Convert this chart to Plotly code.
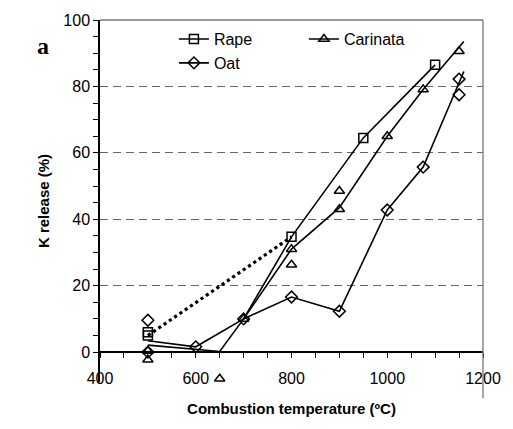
import plotly.graph_objects as go

# ---- data ----
rape_mx = [500, 500, 800, 950, 1100]
rape_my = [5, 6, 34.7, 64.5, 86.5]
rape_lx = [700, 800, 950, 1100]
rape_ly = [10, 34.7, 64.5, 86.5]
rape_dx = [500, 800]
rape_dy = [5, 34.7]

oat_mx = [500, 500, 600, 700, 800, 900, 1000, 1075, 1150, 1150]
oat_my = [9.6, 0, 1.6, 10, 16.6, 12.3, 42.8, 55.7, 82.2, 77.5]
oat_lx = [500, 600, 700, 800, 900, 1000, 1075, 1160]
oat_ly = [3.4, 1.6, 10, 16.6, 12.3, 42.8, 55.7, 84.5]

car_mx = [500, 500, 650, 700, 800, 800, 900, 900, 1000, 1075, 1150]
car_my = [0.3, -2.3, -8, 10, 31, 26.3, 43, 48.5, 65, 79.1, 90.6]
car_lx = [500, 650, 700, 800, 900, 1000, 1075, 1160]
car_ly = [2.1, 0.2, 10, 31, 43.5, 65, 79.1, 93.5]

x_ticks = [400, 600, 800, 1000, 1200]
y_ticks = [0, 20, 40, 60, 80, 100]
y_minor = [5, 10, 15, 25, 30, 35, 45, 50, 55, 65, 70, 75, 85, 90, 95]
Y_LOW = -9

BLK = "black"
LW = 1.6
MS = 9

fig = go.Figure()

for lx, ly in [(rape_lx, rape_ly), (oat_lx, oat_ly), (car_lx, car_ly)]:
    fig.add_trace(go.Scatter(x=lx, y=ly, mode="lines", line=dict(color=BLK, width=LW),
                             showlegend=False, hoverinfo="skip"))
fig.add_trace(go.Scatter(x=rape_dx, y=rape_dy, mode="lines",
                         line=dict(color=BLK, width=3.2, dash="dot"),
                         showlegend=False, hoverinfo="skip"))

for mx, my, sym in [(rape_mx, rape_my, "square-open"), (oat_mx, oat_my, "diamond-open"),
                    (car_mx, car_my, "triangle-up-open")]:
    fig.add_trace(go.Scatter(x=mx, y=my, mode="markers", cliponaxis=False,
                             marker=dict(symbol=sym, size=MS, color=BLK,
                                         line=dict(color=BLK, width=1.5)),
                             showlegend=False))

for name, sym in [("Rape", "square-open"), ("Carinata", "triangle-up-open"), ("Oat", "diamond-open")]:
    fig.add_trace(go.Scatter(x=[None], y=[None], mode="lines+markers", name=name,
                             line=dict(color=BLK, width=LW),
                             marker=dict(symbol=sym, size=MS, color=BLK,
                                         line=dict(color=BLK, width=1.5))))

zero_pos = (0 - Y_LOW) / (100 - Y_LOW)

fig.update_layout(
    width=513, height=429,
    margin=dict(l=100, r=21, t=19, b=47),
    paper_bgcolor="white", plot_bgcolor="white",
    font=dict(family="Liberation Sans, Arial", size=16, color="black"),
    legend=dict(orientation="h", x=0.193, y=0.994, xanchor="left", yanchor="top",
                entrywidth=85, font=dict(size=16), bgcolor="rgba(0,0,0,0)",
                tracegroupgap=0, itemwidth=30),
    xaxis=dict(range=[400, 1200], tickvals=x_ticks, ticks="outside", ticklen=5,
               tickcolor=BLK, showline=True, linecolor=BLK, linewidth=1.5,
               showgrid=False, zeroline=False, anchor="free", position=zero_pos,
               ticklabelstandoff=7,
               minor=dict(dtick=50, tick0=400, ticks="outside", ticklen=5, tickcolor=BLK),
               title=dict(text="<b>Combustion temperature (ºC)</b>", font=dict(size=15), standoff=16)),
    yaxis=dict(range=[Y_LOW, 100], tickvals=y_ticks, ticks="outside", ticklen=5,
               tickcolor=BLK, showline=True, linecolor=BLK, linewidth=1.5,
               showgrid=True, gridcolor="#666", gridwidth=1.3, griddash="8px,5px",
               zeroline=False,
               minor=dict(tickvals=y_minor, ticks="outside", ticklen=5, tickcolor=BLK, showgrid=False),
               title=dict(text="<b>K release (%)</b>", font=dict(size=15), standoff=10)),
    shapes=[
        dict(type="line", xref="paper", yref="paper", x0=0, x1=1, y0=1, y1=1,
             line=dict(color="#777", width=1.3)),
        dict(type="line", xref="paper", yref="paper", x0=1, x1=1, y0=-0.045, y1=1,
             line=dict(color="#777", width=1.3)),
    ],
    annotations=[
        dict(text="<b>a</b>", x=(42 - 100) / 392, y=(382 - 45) / 363, xref="paper", yref="paper",
             showarrow=False, xanchor="center", yanchor="middle",
             font=dict(family="Liberation Serif", size=24)),
    ],
)
fig.write_html("out.html")
